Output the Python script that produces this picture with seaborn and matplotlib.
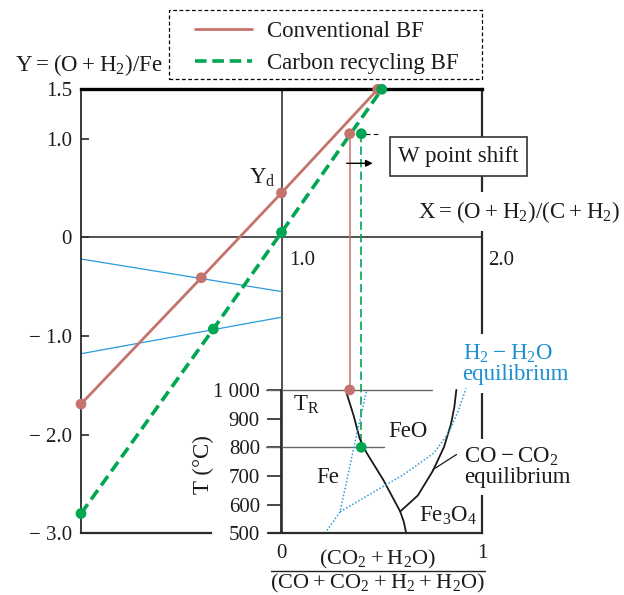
import numpy as np
import pandas as pd
import matplotlib
matplotlib.use("Agg")
import matplotlib.pyplot as plt
from matplotlib.lines import Line2D
from matplotlib.patches import Rectangle
import seaborn as sns

# Operating lines of the Rist diagram
conv_x = [0.0, 0.60, 1.0, 1.48]
conv_y = [-1.69, -0.41, 0.45, 1.50]
recy_x = [0.0, 0.66, 1.0, 1.50]
recy_y = [-2.80, -0.93, 0.05, 1.50]

# W points and the reserve zone temperature under each of them
w_x = [1.34, 1.398]
w_y = [1.05, 1.05]
t_reserve = [1000, 800]

# thin blue lines (H2 side)
blue_x = [0.0, 1.0]
blue_upper_y = [-0.22, -0.55]
blue_lower_y = [-1.18, -0.81]

# Baur-Glaessner curves: gas fraction vs temperature
co_fe_x = [0.325, 0.36, 0.39, 0.425, 0.508, 0.592, 0.61, 0.622]
co_fe_t = [988, 910, 830, 780, 686, 576, 540, 500]
co_mag_x = [0.592, 0.68, 0.755, 0.81, 0.845, 0.862, 0.872]
co_mag_t = [576, 632, 718, 800, 880, 940, 1000]
h2_fe_x = [0.217, 0.292, 0.358, 0.425]
h2_fe_t = [500, 575, 790, 1000]
h2_mag_x = [0.292, 0.45, 0.61, 0.758, 0.833, 0.883, 0.92]
h2_mag_t = [575, 640, 705, 779, 849, 930, 1005]

t_ticks = [500, 600, 700, 800, 900, 1000]
t_tick_labels = ["500", "600", "700", "800", "900", "1 000"]
y_ticks = [1.5, 1.0, 0, -1.0, -2.0, -3.0]
y_tick_labels = ["1.5", "1.0", "0", "\u2212 1.0", "\u2212 2.0", "\u2212 3.0"]

RED = "#c4746c"
GREEN = "#00a651"
BLUE = "#2b9bdc"
BLUE_TXT = "#1a8fd2"
INK = "#1c1c1c"

# inset (T diagram) sits in main data coords: x 1..2, y -3 .. -3+1.453
INSET = [1.0, -3.0, 1.0, 1.453]


def t_to_y(t):
    return INSET[1] + (t - 500) / 500 * INSET[3]


sns.set_theme(style="white")
plt.rcParams['font.family'] = ['Liberation Serif', 'DejaVu Serif']
plt.rcParams['mathtext.default'] = 'regular'

W, H = 624, 595
fig = plt.figure(figsize=(W / 100, H / 100), dpi=100)
ax = fig.add_axes([81 / W, (H - 533.3) / H, 401 / W, 444 / H])
ax.set_xlim(0, 2)
ax.set_ylim(-3, 1.5)

FS = 16.5
TFS = 15

# spines
for s in ax.spines.values():
    s.set_color("#2a2a2a")
    s.set_linewidth(1.3)
ax.spines['top'].set_linewidth(2.4)
ax.spines['top'].set_color("black")
ax.spines['right'].set_linewidth(1.6)
ax.spines['bottom'].set_linewidth(1.6)
ax.spines['bottom'].set_bounds(0, 0.65)

ax.set_xticks([])
ax.set_yticks(y_ticks)
ax.set_yticklabels(y_tick_labels)
ax.tick_params(axis='y', left=True, direction='in', length=6, width=1.2,
               pad=6.5, labelsize=TFS, colors="#2a2a2a")
ax.tick_params(axis='y', labelcolor=INK)

ax.axhline(0, color="#333333", lw=1.2, zorder=1)
ax.axvline(1.0, color="#333333", lw=1.2, zorder=1)

# blue lines
sns.lineplot(x=blue_x, y=blue_upper_y, color=BLUE, lw=0.9, ax=ax, zorder=2)
sns.lineplot(x=blue_x, y=blue_lower_y, color=BLUE, lw=0.9, ax=ax, zorder=2)

# verticals from W points down to the reserve zone temperature
ax.plot([w_x[0], w_x[0]], [w_y[0], t_to_y(t_reserve[0])], color=RED, lw=1.1, zorder=2)
ax.plot([w_x[1], w_x[1]], [w_y[1], t_to_y(t_reserve[1])], color=GREEN, lw=1.2,
        ls=(0, (5, 2.5)), zorder=2)
ax.plot([w_x[0], w_x[1] + 0.09], [w_y[0], w_y[1]], color="black", lw=0.8,
        ls=(0, (4, 3)), zorder=2)

# operating lines
df = pd.DataFrame({
    "x": conv_x + recy_x,
    "y": conv_y + recy_y,
    "series": ["Conventional BF"] * len(conv_x) + ["Carbon recycling BF"] * len(recy_x),
})
conv = df[df.series == "Conventional BF"]
recy = df[df.series == "Carbon recycling BF"]
sns.lineplot(data=conv, x="x", y="y", color=RED, lw=2.0, sort=False,
             estimator=None, ax=ax, zorder=3)
sns.lineplot(data=recy, x="x", y="y", color=GREEN, lw=2.6, sort=False,
             estimator=None, ax=ax, zorder=3)
ax.lines[-1].set_dashes((3.2, 1.6))
sns.scatterplot(data=conv, x="x", y="y", color=RED, s=60, edgecolor="none",
                ax=ax, zorder=4, clip_on=False)
sns.scatterplot(data=recy, x="x", y="y", color=GREEN, s=60, edgecolor="none",
                ax=ax, zorder=4, clip_on=False)
sns.scatterplot(x=w_x[:1], y=w_y[:1], color=RED, s=60, edgecolor="none", ax=ax, zorder=4)
sns.scatterplot(x=w_x[1:], y=w_y[1:], color=GREEN, s=60, edgecolor="none", ax=ax, zorder=4)
ax.set_xlabel("")
ax.set_ylabel("")

ax.annotate("", xy=(1.455, 0.75), xytext=(1.325, 0.75),
            arrowprops=dict(arrowstyle='-|>', color='black', lw=1.0,
                            mutation_scale=10, shrinkA=0, shrinkB=0))

# texts in the main diagram
ax.text(1.04, -0.24, "1.0", fontsize=TFS, ha='left', va='center', color=INK)
ax.text(2.03, -0.24, "2.0", fontsize=TFS, ha='left', va='center', color=INK)
ax.text(0.97, 0.60, "Y$_d$", fontsize=FS, ha='right', va='center', color=INK)
ax.text(1.68, 0.26, r"$X = (O + H_2)/(C + H_2)$", fontsize=FS, ha='left',
        va='center', color=INK, zorder=5,
        bbox=dict(facecolor='white', edgecolor='none', pad=5))
ax.text(1.883, 0.82, "W point shift", fontsize=FS, ha='center', va='center',
        color=INK, zorder=5,
        bbox=dict(boxstyle='square,pad=0.38', facecolor='white',
                  edgecolor='#333333', lw=1.2))
ax.text(1.903, -1.28, "$H_2 - H_2O$\nequilibrium", fontsize=FS,
        ha='left', va='center', color=BLUE_TXT, linespacing=0.95, zorder=5,
        bbox=dict(facecolor='white', edgecolor='none', pad=6))
fig.text(15 / W, 1 - 65 / H, r"$Y = (O + H_2)/Fe$", fontsize=FS, ha='left',
         va='center', color=INK)

# inset temperature diagram
ins = ax.inset_axes(INSET, transform=ax.transData)
ins.set_facecolor('none')
ins.set_xlim(0, 1)
ins.set_ylim(500, 1000)
for side in ['top', 'right']:
    ins.spines[side].set_visible(False)
for side in ['left', 'bottom']:
    ins.spines[side].set_color("#2a2a2a")
    ins.spines[side].set_linewidth(1.3)
ins.spines['bottom'].set_linewidth(1.6)
ins.spines['bottom'].set_bounds(-0.06, 1.0)
ins.set_yticks(t_ticks)
ins.set_yticklabels(t_tick_labels)
ins.set_xticks([0, 1])
ins.set_xticklabels(["0", "1"])
ins.tick_params(axis='y', left=True, direction='out', length=10, width=1.2,
                pad=5.5, labelsize=TFS, colors="#2a2a2a")
ins.tick_params(axis='y', labelcolor=INK)
ins.tick_params(axis='x', bottom=True, length=0, pad=8, labelsize=TFS,
                colors=INK)

ins.plot([-0.075, 0.75], [t_reserve[0]] * 2, color="#666666", lw=1.0, clip_on=False)
ins.plot([-0.075, 0.51], [t_reserve[1]] * 2, color="#666666", lw=1.0, clip_on=False)

sns.lineplot(x=co_fe_x, y=co_fe_t, color="#1a1a1a", lw=1.3, sort=False,
             estimator=None, ax=ins)
sns.lineplot(x=co_mag_x, y=co_mag_t, color="#1a1a1a", lw=1.3, sort=False,
             estimator=None, ax=ins)
for hx, ht in [(h2_fe_x, h2_fe_t), (h2_mag_x, h2_mag_t)]:
    sns.lineplot(x=hx, y=ht, color=BLUE, lw=1.1, sort=False, estimator=None,
                 ax=ins, linestyle=(0, (1, 1.3)))
for ln in ins.lines:
    ln.set_clip_on(False)
ins.plot([0.755, 0.873], [722, 775], color="#1a1a1a", lw=0.9)

sns.scatterplot(x=[w_x[0] - 1], y=[t_reserve[0]], color=RED, s=60,
                edgecolor="none", ax=ins, zorder=5, clip_on=False)
sns.scatterplot(x=[w_x[1] - 1], y=[t_reserve[1]], color=GREEN, s=60,
                edgecolor="none", ax=ins, zorder=5, clip_on=False)
ins.set_xlabel("")
ins.set_ylabel("")

ins.text(0.057, 948, "T$_R$", fontsize=FS, ha='left', va='center', color=INK)
ins.text(0.63, 855, "FeO", fontsize=FS, ha='center', va='center', color=INK)
ins.text(0.23, 693, "Fe", fontsize=FS, ha='center', va='center', color=INK)
ins.text(0.976, 560, "Fe$_3$O$_4$", fontsize=FS, ha='right', va='center', color=INK)
ins.text(0.9085, 731, "$CO - CO_2$\nequilibrium", fontsize=FS, ha='left',
         va='center', color=INK, linespacing=0.95, zorder=6, clip_on=False,
         bbox=dict(boxstyle='square,pad=0.3', facecolor='white', edgecolor='none'))

# fraction label under the inset
ins.text(0.48, -0.186, r"$(CO_2 + H_2O)$", transform=ins.transAxes,
         fontsize=16, ha='center', va='center', color=INK)
ins.plot([-0.05, 1.017], [-0.263, -0.263], transform=ins.transAxes,
         color="#222", lw=1.0, clip_on=False)
ins.text(0.48, -0.35, r"$(CO + CO_2 + H_2 + H_2O)$", transform=ins.transAxes,
         fontsize=16, ha='center', va='center', color=INK)

fig.text(203 / W, 1 - 465 / H, "T (\u00b0C)", fontsize=FS, rotation=90,
         ha='center', va='center', color=INK)

# legend, with its dashed box drawn separately
handles = [Line2D([], [], color=RED, lw=2.0),
           Line2D([], [], color=GREEN, lw=2.6, dashes=(3.2, 1.6))]
leg = fig.legend(handles, ["Conventional BF", "Carbon recycling BF"],
                 loc='upper left', bbox_to_anchor=(195 / W, 1 - 21 / H),
                 borderaxespad=0, frameon=False, fontsize=FS,
                 handlelength=2.5, handletextpad=0.65, borderpad=0,
                 labelspacing=0.47)
for t in leg.get_texts():
    t.set_color(INK)
fig.add_artist(Rectangle((169 / W, 1 - 79 / H), 313 / W, 69 / H,
                         transform=fig.transFigure, fill=False,
                         edgecolor="black", lw=0.9, ls=(0, (3, 2))))

fig.savefig("out.png", dpi=100)
